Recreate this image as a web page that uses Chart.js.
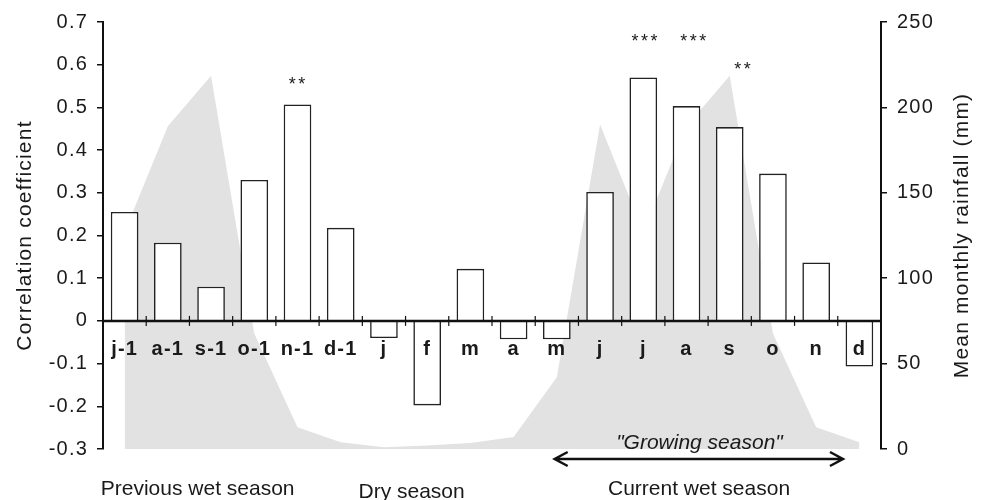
<!DOCTYPE html>
<html lang="en">
<head>
  <meta charset="UTF-8" />
  <title>Correlation and rainfall</title>
  <style>
    body, html { margin: 0; padding: 0; background: #fff; }
    #wrap { width: 987px; height: 500px; position: relative; }
  </style>
  <script src="https://cdn.jsdelivr.net/npm/chart.js"></script>
</head>
<body>
<div id="wrap"><canvas id="chart"></canvas></div>
<script>
  // data
  const months = ['j-1', 'a-1', 's-1', 'o-1', 'n-1', 'd-1', 'j', 'f', 'm', 'a', 'm', 'j', 'j', 'a', 's', 'o', 'n', 'd'];
  const correlation = [0.255, 0.183, 0.08, 0.33, 0.507, 0.218, -0.04, -0.198, 0.122, -0.043, -0.043, 0.302, 0.57, 0.503, 0.454, 0.345, 0.137, -0.107];
  const rainfall = [127, 189, 218.5, 67.6, 12.8, 4, 1, 2, 3.5, 7, 42, 190, 127, 189, 218.5, 67.6, 12.8, 4];
  const leftTicks = { min: -0.3, max: 0.7, step: 0.1 };
  const rightTicks = { min: 0, max: 250, step: 50 };

  // significance marks: category index, stars, height on the correlation scale
  const starIndex = [4, 12, 13, 14];
  const starText = ['**', '***', '***', '**'];
  const starLevel = [0.56, 0.66, 0.66, 0.595];
  const starShift = [0, 0.04, 0.17, 0.31];

  const seasons = ['Previous wet season', 'Dry season', 'Current wet season'];
  const seasonAt = [1.69, 6.64, 13.29];

  const FONT = '"Liberation Sans", Arial, sans-serif';
  const INK = '#1a1a1a';

  const decor = {
    id: 'decor',
    beforeLayout(chart) { chart.ctx.letterSpacing = '1.2px'; },
    beforeDraw(chart) { chart.ctx.letterSpacing = '1.2px'; },
    afterDatasetsDraw(chart) {
      const { ctx, chartArea: a, scales: { x, y } } = chart;
      const y0 = y.getPixelForValue(0);
      ctx.save();
      ctx.strokeStyle = '#111';
      ctx.fillStyle = INK;

      // zero line with month separators
      ctx.lineWidth = 2.5;
      ctx.beginPath();
      ctx.moveTo(a.left, y0);
      ctx.lineTo(a.right, y0);
      ctx.stroke();
      ctx.lineWidth = 1.2;
      for (let i = 0; i < months.length - 1; i++) {
        const px = x.getPixelForValue(i + 0.5);
        ctx.beginPath();
        ctx.moveTo(px, y0 - 5);
        ctx.lineTo(px, y0 + 5);
        ctx.stroke();
      }

      // month labels
      ctx.font = 'bold 20px ' + FONT;
      ctx.textAlign = 'center';
      ctx.textBaseline = 'middle';
      months.forEach((m, i) => ctx.fillText(m, x.getPixelForValue(i), y0 + 29));

      // stars
      ctx.font = '18px ' + FONT;
      starIndex.forEach((idx, k) => {
        const cx = x.getPixelForValue(idx + starShift[k]);
        const cy = y.getPixelForValue(starLevel[k]);
        const n = starText[k].length;
        for (let s = 0; s < n; s++) {
          ctx.fillText('*', cx + (s - (n - 1) / 2) * 9.5, cy + 3);
        }
      });

      // axis titles
      ctx.font = '21px ' + FONT;
      const midY = (a.top + a.bottom) / 2;
      [[25, 'Correlation coefficient'], [962, 'Mean monthly rainfall (mm)']].forEach(([tx, t]) => {
        ctx.save();
        ctx.translate(tx, midY);
        ctx.rotate(-Math.PI / 2);
        ctx.fillText(t, 0, 0);
        ctx.restore();
      });

      // season labels under the plot
      ctx.letterSpacing = '0px';
      ctx.font = '21px ' + FONT;
      seasons.forEach((s, i) => ctx.fillText(s, x.getPixelForValue(seasonAt[i]), a.bottom + 40 + (i === 1 ? 3 : 0)));

      // growing season arrow
      const x1 = x.getPixelForValue(9.95), x2 = x.getPixelForValue(16.62), ay = a.bottom + 10;
      ctx.lineWidth = 2.5;
      ctx.beginPath();
      ctx.moveTo(x1, ay); ctx.lineTo(x2, ay);
      ctx.moveTo(x1 + 13, ay - 7); ctx.lineTo(x1, ay); ctx.lineTo(x1 + 13, ay + 7);
      ctx.moveTo(x2 - 13, ay - 7); ctx.lineTo(x2, ay); ctx.lineTo(x2 - 13, ay + 7);
      ctx.stroke();
      ctx.font = 'italic 21px ' + FONT;
      ctx.fillText('"Growing season"', x.getPixelForValue(13.3), a.bottom - 6);
      ctx.restore();
    }
  };

  new Chart(document.getElementById('chart'), {
    data: {
      labels: months,
      datasets: [
        {
          type: 'bar',
          data: correlation,
          yAxisID: 'y',
          backgroundColor: '#ffffff',
          borderColor: '#222',
          borderWidth: 1.6,
          barPercentage: 0.64,
          categoryPercentage: 1,
          order: 1
        },
        {
          type: 'line',
          data: rainfall,
          yAxisID: 'y1',
          fill: 'origin',
          backgroundColor: '#e2e2e2',
          borderWidth: 0,
          pointRadius: 0,
          tension: 0,
          order: 2
        }
      ]
    },
    options: {
      responsive: true,
      maintainAspectRatio: false,
      animation: false,
      layout: { padding: { top: 20, bottom: 51, left: 0, right: 0 } },
      plugins: { legend: { display: false }, tooltip: { enabled: false } },
      scales: {
        x: { display: false },
        y: {
          position: 'left',
          min: leftTicks.min,
          max: leftTicks.max,
          afterFit: s => { s.width = 103; },
          ticks: {
            stepSize: leftTicks.step,
            color: INK,
            padding: 9,
            font: { family: FONT, size: 20 },
            callback: v => String(Math.round(v * 10) / 10)
          },
          grid: { drawOnChartArea: false, drawTicks: true, tickLength: 6, color: '#111', lineWidth: 1.5 },
          border: { display: true, color: '#111', width: 2 }
        },
        y1: {
          position: 'right',
          min: rightTicks.min,
          max: rightTicks.max,
          afterFit: s => { s.width = 106; },
          ticks: {
            stepSize: rightTicks.step,
            color: INK,
            padding: 10,
            font: { family: FONT, size: 20 }
          },
          grid: { drawOnChartArea: false, drawTicks: true, tickLength: 6, color: '#111', lineWidth: 1.5 },
          border: { display: true, color: '#111', width: 2 }
        }
      }
    },
    plugins: [decor]
  });
</script>
</body>
</html>
